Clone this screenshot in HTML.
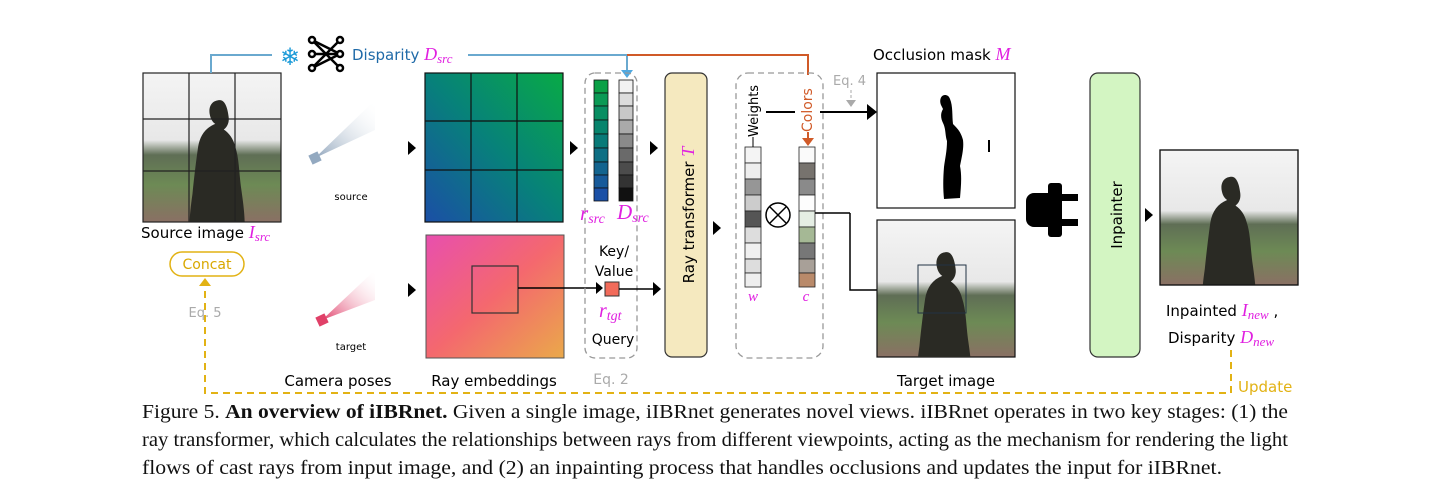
<!DOCTYPE html>
<html><head><meta charset="utf-8"><style>
html,body{margin:0;padding:0;background:#fff;}
svg{display:block}
.s{font-family:"DejaVu Sans","Liberation Sans",sans-serif;}
.m{font-family:"Liberation Serif",serif;font-style:italic;fill:#e020e0;}
.cap{font-family:"Liberation Serif",serif;font-size:20px;fill:#111;}
</style></head><body>
<svg width="1429" height="496" viewBox="0 0 1429 496" xmlns="http://www.w3.org/2000/svg">
<defs>
<linearGradient id="gt" x1="0" y1="1" x2="1" y2="0"><stop offset="0" stop-color="#1b4fa6"/><stop offset="0.5" stop-color="#07817a"/><stop offset="1" stop-color="#08aa46"/></linearGradient>
<linearGradient id="gp" x1="0" y1="0" x2="1" y2="1"><stop offset="0" stop-color="#e84fae"/><stop offset="0.5" stop-color="#f4686e"/><stop offset="1" stop-color="#eaa94a"/></linearGradient>
<linearGradient id="cs" x1="0" y1="1" x2="1" y2="0"><stop offset="0" stop-color="#8fa4bb"/><stop offset="1" stop-color="#fff" stop-opacity="0"/></linearGradient>
<linearGradient id="ct" x1="0" y1="1" x2="1" y2="0"><stop offset="0" stop-color="#e0406a"/><stop offset="1" stop-color="#fff" stop-opacity="0"/></linearGradient>
<linearGradient id="ph" x1="0" y1="0" x2="0" y2="1"><stop offset="0" stop-color="#f4f4f4"/><stop offset="0.45" stop-color="#e8e8e8"/><stop offset="0.55" stop-color="#5f6e55"/><stop offset="0.75" stop-color="#6d8a55"/><stop offset="1" stop-color="#8a7064"/></linearGradient>
<g id="statue"><path d="M60 18c-8 0-12 6-11 14 1 6 3 9 6 11-10 4-16 12-18 24-2 14-4 30-6 50-2 14-3 24-3 32h58c0-12-2-26-4-40-2-16-2-30-6-42-2-8-6-14-12-18 4-3 6-8 5-14-1-9-4-17-9-17z" fill="#2a2a24"/></g>
<clipPath id="c1"><rect x="143" y="73" width="138" height="149"/></clipPath>
<clipPath id="c2"><rect x="877" y="220" width="138" height="137"/></clipPath>
<clipPath id="c3"><rect x="1160" y="150" width="138" height="135"/></clipPath>
</defs>
<!-- source image -->
<rect x="143" y="73" width="138" height="149" fill="url(#ph)"/>
<g clip-path="url(#c1)"><use href="#statue" transform="translate(163,83) scale(0.95)"/></g>
<g stroke="#222" stroke-width="1.2" fill="none"><rect x="143" y="73" width="138" height="149"/><line x1="189" y1="73" x2="189" y2="222"/><line x1="235" y1="73" x2="235" y2="222"/><line x1="143" y1="119" x2="281" y2="119"/><line x1="143" y1="171" x2="281" y2="171"/></g>
<text x="141" y="238" class="s" font-size="15">Source image <tspan class="m" font-size="18">I</tspan><tspan class="m" font-size="13" dy="3">src</tspan></text>
<rect x="170" y="252" width="74" height="24" rx="12" fill="#fff" stroke="#e2b214" stroke-width="1.5"/>
<text x="207" y="269" class="s" font-size="14" fill="#d9a800" text-anchor="middle">Concat</text>
<text x="205" y="317" class="s" font-size="13" fill="#aaa" text-anchor="middle">Eq. 5</text>
<!-- top lines -->
<polyline points="211,73 211,55 272,55" fill="none" stroke="#6aa9cf" stroke-width="2"/>
<polyline points="468,55 627,55 627,72" fill="none" stroke="#6aa9cf" stroke-width="2"/>
<polygon points="621,70 633,70 627,78" fill="#4fa8e0"/>
<polyline points="627,55 808,55 808,75" fill="none" stroke="#d05a28" stroke-width="2"/>
<text x="290" y="65" font-size="24" fill="#1a9ad8" text-anchor="middle">❄</text>
<g stroke="#000" stroke-width="2.5" fill="#fff"><line x1="312" y1="40" x2="340" y2="68"/><line x1="312" y1="68" x2="340" y2="40"/><line x1="312" y1="54" x2="340" y2="54"/><line x1="312" y1="40" x2="340" y2="54"/><line x1="312" y1="68" x2="340" y2="54"/><circle cx="312" cy="40" r="3"/><circle cx="312" cy="54" r="3"/><circle cx="312" cy="68" r="3"/><circle cx="340" cy="40" r="3"/><circle cx="340" cy="54" r="3"/><circle cx="340" cy="68" r="3"/></g>
<text x="352" y="60" class="s" font-size="15" fill="#1f6aa8">Disparity <tspan class="m" font-size="18">D</tspan><tspan class="m" font-size="13" dy="3">src</tspan></text>
<!-- cameras -->
<polygon points="315,158 375,100 375,130" fill="url(#cs)"/>
<rect x="310" y="153" width="10" height="10" fill="#93a9c0" transform="rotate(-25 315 158)"/>
<text x="351" y="200" class="s" font-size="10" text-anchor="middle">source</text>
<polygon points="322,320 375,270 375,300" fill="url(#ct)"/>
<rect x="317" y="315" width="10" height="10" fill="#e04068" transform="rotate(-25 322 320)"/>
<text x="351" y="350" class="s" font-size="10" text-anchor="middle">target</text>
<text x="338" y="386" class="s" font-size="15" text-anchor="middle">Camera poses</text>
<!-- arrows -->
<g fill="#000"><polygon points="408,141 416,148 408,155"/><polygon points="408,283 416,290 408,297"/><polygon points="570,141 578,148 570,155"/><polygon points="650,141 658,148 650,155"/><polygon points="713,221 721,228 713,235"/><polygon points="1145,208 1153,215 1145,222"/></g>
<!-- ray embeddings -->
<rect x="425" y="73" width="138" height="149" fill="url(#gt)"/>
<g stroke="#111" stroke-width="1.2" fill="none"><rect x="425" y="73" width="138" height="149"/><line x1="471" y1="73" x2="471" y2="222"/><line x1="517" y1="73" x2="517" y2="222"/><line x1="425" y1="121" x2="563" y2="121"/><line x1="425" y1="170" x2="563" y2="170"/></g>
<rect x="426" y="235" width="138" height="123" fill="url(#gp)" stroke="#555"/>
<rect x="472" y="266" width="46" height="47" fill="none" stroke="#333" stroke-width="1.2"/>
<text x="494" y="386" class="s" font-size="15" text-anchor="middle">Ray embeddings</text>
<line x1="518" y1="288" x2="598" y2="288" stroke="#000" stroke-width="1.5"/>
<polygon points="596,282 603,288 596,294" fill="#000"/>
<!-- dashed key/value box -->
<rect x="585" y="73" width="52" height="285" rx="10" fill="none" stroke="#999" stroke-width="1.3" stroke-dasharray="6,4"/>
<g stroke="#111" stroke-width="0.8">
<rect x="594" y="80" width="14" height="13" fill="#0aa046"/><rect x="594" y="93" width="14" height="13" fill="#0a9a55"/><rect x="594" y="106" width="14" height="14" fill="#088e62"/><rect x="594" y="120" width="14" height="14" fill="#07846d"/><rect x="594" y="134" width="14" height="14" fill="#087a78"/><rect x="594" y="148" width="14" height="14" fill="#0e6f84"/><rect x="594" y="162" width="14" height="13" fill="#13648f"/><rect x="594" y="175" width="14" height="13" fill="#175a9a"/><rect x="594" y="188" width="14" height="13" fill="#1b50a6"/>
<rect x="619" y="80" width="14" height="13" fill="#f2f2f2"/><rect x="619" y="93" width="14" height="13" fill="#dcdcdc"/><rect x="619" y="106" width="14" height="14" fill="#c8c8c8"/><rect x="619" y="120" width="14" height="14" fill="#aaa"/><rect x="619" y="134" width="14" height="14" fill="#8a8a8a"/><rect x="619" y="148" width="14" height="14" fill="#6a6a6a"/><rect x="619" y="162" width="14" height="13" fill="#4c4c4c"/><rect x="619" y="175" width="14" height="13" fill="#333"/><rect x="619" y="188" width="14" height="13" fill="#111"/></g>
<text x="580" y="220" class="m" font-size="21">r<tspan font-size="14" dy="3">src</tspan></text>
<text x="617" y="219" class="m" font-size="21">D<tspan font-size="14" dy="3">src</tspan></text>
<text x="614" y="256" class="s" font-size="14" text-anchor="middle">Key/</text>
<text x="614" y="276" class="s" font-size="14" text-anchor="middle">Value</text>
<rect x="605" y="282" width="14" height="14" fill="#f26b5a" stroke="#333"/>
<line x1="619" y1="289" x2="655" y2="289" stroke="#000" stroke-width="1.5"/>
<polygon points="653,282 661,289 653,296" fill="#000"/>
<text x="599" y="317" class="m" font-size="20">r<tspan font-size="14" dy="3">tgt</tspan></text>
<text x="613" y="344" class="s" font-size="14" text-anchor="middle">Query</text>
<text x="611" y="384" class="s" font-size="14" fill="#aaa" text-anchor="middle">Eq. 2</text>
<!-- ray transformer -->
<rect x="665" y="73" width="42" height="284" rx="7" fill="#f5e9bf" stroke="#333" stroke-width="1.2"/>
<text transform="translate(694,215) rotate(-90)" class="s" font-size="15" text-anchor="middle">Ray transformer <tspan class="m" font-size="18">T</tspan></text>
<!-- weights/colors box -->
<rect x="736" y="73" width="87" height="285" rx="12" fill="none" stroke="#999" stroke-width="1.3" stroke-dasharray="6,4"/>
<g stroke="#222" stroke-width="0.8">
<rect x="745" y="147" width="16" height="16" fill="#f4f4f4"/><rect x="745" y="163" width="16" height="16" fill="#eee"/><rect x="745" y="179" width="16" height="16" fill="#969696"/><rect x="745" y="195" width="16" height="16" fill="#ccc"/><rect x="745" y="211" width="16" height="16" fill="#555"/><rect x="745" y="227" width="16" height="16" fill="#ddd"/><rect x="745" y="243" width="16" height="16" fill="#f0f0f0"/><rect x="745" y="259" width="16" height="14" fill="#ddd"/><rect x="745" y="273" width="16" height="14" fill="#eee"/>
<rect x="799" y="147" width="16" height="16" fill="#fafafa"/><rect x="799" y="163" width="16" height="16" fill="#77736e"/><rect x="799" y="179" width="16" height="16" fill="#8a8a8a"/><rect x="799" y="195" width="16" height="16" fill="#fdfdfd"/><rect x="799" y="211" width="16" height="16" fill="#e5eee4"/><rect x="799" y="227" width="16" height="16" fill="#a5b895"/><rect x="799" y="243" width="16" height="16" fill="#777"/><rect x="799" y="259" width="16" height="14" fill="#a8a098"/><rect x="799" y="273" width="16" height="14" fill="#b98a6a"/></g>
<circle cx="778" cy="215" r="12" fill="#fff" stroke="#000" stroke-width="1.5"/>
<path d="M770 207L786 223M786 207L770 223" stroke="#000" stroke-width="1.5"/>
<text x="753" y="301" class="m" font-size="15" text-anchor="middle">w</text>
<text x="806" y="301" class="m" font-size="15" text-anchor="middle">c</text>
<text transform="translate(758,137) rotate(-90)" class="s" font-size="13">Weights</text>
<line x1="753" y1="137" x2="753" y2="147" stroke="#000"/>
<text transform="translate(812,132) rotate(-90)" class="s" font-size="14" fill="#d05a28">Colors</text>
<line x1="808" y1="132" x2="808" y2="140" stroke="#d05a28" stroke-width="2"/>
<polygon points="802,138 814,138 808,146" fill="#d05a28"/>
<line x1="766" y1="112" x2="795" y2="112" stroke="#000" stroke-width="2"/>
<line x1="820" y1="112" x2="868" y2="112" stroke="#000" stroke-width="2"/>
<polygon points="867,104 877,112 867,120" fill="#000"/>
<text x="833" y="85" class="s" font-size="13" fill="#aaa">Eq. 4</text>
<line x1="851" y1="90" x2="851" y2="102" stroke="#aaa" stroke-dasharray="3,2"/>
<polygon points="846,100 856,100 851,107" fill="#aaa"/>
<line x1="815" y1="213" x2="850" y2="213" stroke="#000" stroke-width="1.5"/>
<polyline points="850,213 850,290 906,290" fill="none" stroke="#000" stroke-width="1.5"/>
<polygon points="905,283 913,290 905,297" fill="#000"/>
<!-- occlusion mask -->
<text x="873" y="60" class="s" font-size="15">Occlusion mask <tspan class="m" font-size="18">M</tspan></text>
<rect x="877" y="73" width="138" height="135" fill="#fff" stroke="#111" stroke-width="1.2"/>
<path d="M945 95c-4 0-6 5-4 10l2 4c-3 5-2 10 0 14 3 6 2 12 4 18 0 10-2 18-3 26-1 12-1 22 0 32l16-1c1-12 2-22 0-32 2-10 4-18 3-26-2-8-6-12-10-16-1-8 0-18-3-25-1-3-3-4-5-4z" fill="#000"/>
<rect x="988" y="140" width="2" height="12" fill="#000"/>
<!-- target image -->
<rect x="877" y="220" width="138" height="137" fill="url(#ph)" stroke="#111" stroke-width="1.2"/>
<g clip-path="url(#c2)"><use href="#statue" transform="translate(890,235) scale(0.95)"/></g>
<rect x="918" y="265" width="48" height="48" fill="none" stroke="#234" stroke-width="1"/>
<text x="946" y="386" class="s" font-size="15" text-anchor="middle">Target image</text>
<!-- plug -->
<rect x="1026" y="193" width="36" height="34" rx="8" fill="#000"/>
<rect x="1048" y="183" width="14" height="54" rx="3" fill="#000"/>
<rect x="1060" y="194" width="18" height="7" fill="#000"/><rect x="1060" y="219" width="18" height="7" fill="#000"/>
<!-- inpainter -->
<rect x="1090" y="73" width="50" height="284" rx="8" fill="#d3f5c2" stroke="#333" stroke-width="1.2"/>
<text transform="translate(1122,215) rotate(-90)" class="s" font-size="15" text-anchor="middle">Inpainter</text>
<!-- inpainted -->
<rect x="1160" y="150" width="138" height="135" fill="url(#ph)" stroke="#111" stroke-width="1.2"/>
<g clip-path="url(#c3)"><use href="#statue" transform="translate(1176,160) scale(0.93)"/></g>
<rect x="1160" y="150" width="138" height="135" fill="none" stroke="#111" stroke-width="1.2"/>
<text x="1166" y="316" class="s" font-size="15">Inpainted <tspan class="m" font-size="18">I</tspan><tspan class="m" font-size="13" dy="3">new</tspan><tspan dy="-3"> ,</tspan></text>
<text x="1168" y="343" class="s" font-size="15">Disparity <tspan class="m" font-size="18">D</tspan><tspan class="m" font-size="13" dy="3">new</tspan></text>
<!-- update dashed -->
<polyline points="1231,350 1231,393 205,393 205,285" fill="none" stroke="#e2b214" stroke-width="2" stroke-dasharray="7,5"/>
<polygon points="199,286 211,286 205,278" fill="#e2b214"/>
<text x="1238" y="392" class="s" font-size="15" fill="#e2b214">Update</text>
<!-- caption -->
<text x="142" y="418" class="cap" textLength="1146" lengthAdjust="spacingAndGlyphs">Figure 5. <tspan font-weight="bold">An overview of iIBRnet.</tspan> Given a single image, iIBRnet generates novel views. iIBRnet operates in two key stages: (1) the</text>
<text x="142" y="446" class="cap" textLength="1146" lengthAdjust="spacingAndGlyphs">ray transformer, which calculates the relationships between rays from different viewpoints, acting as the mechanism for rendering the light</text>
<text x="142" y="474" class="cap" textLength="1080" lengthAdjust="spacingAndGlyphs">flows of cast rays from input image, and (2) an inpainting process that handles occlusions and updates the input for iIBRnet.</text>
</svg>
</body></html>
